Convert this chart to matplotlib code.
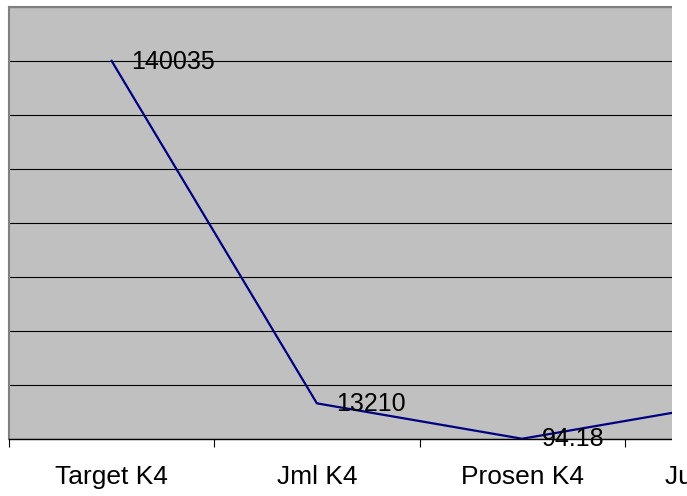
import matplotlib.pyplot as plt
from matplotlib.patches import Rectangle

# data
categories = ['Target K4', 'Jml K4', 'Prosen K4', 'Jumlah K4']
values = [140035, 13210, 94.18, 13210]
value_labels = ['140035', '13210', '94.18', '13210']

plt.rcParams['font.family'] = ['Liberation Sans', 'DejaVu Sans']

W, H = 687, 496
fig = plt.figure(figsize=(W / 100, H / 100), dpi=100)
# plot area runs past the right edge, like the cropped original
left, right, top, bottom = 9, 830, 7, 439
ax = fig.add_axes([left / W, (H - bottom) / H, (right - left) / W, (bottom - top) / H])
ax.set_facecolor('#c0c0c0')

x = list(range(len(categories)))
ax.plot(x, values, color='#000080', lw=1.6, zorder=3)
for xi, v, lab in zip(x, values, value_labels):
    ax.annotate(lab, (xi, v), xytext=(14, -0.5), textcoords='offset points',
                va='center', ha='left', fontsize=18, color='black', zorder=4,
                annotation_clip=False)

ax.set_xlim(-0.5, len(categories) - 0.5)
ax.set_ylim(0, 160000)
ax.set_yticks(range(0, 160001, 20000))
ax.yaxis.grid(True, color='black', lw=0.8)
ax.set_axisbelow(True)
ax.tick_params(axis='y', left=False, labelleft=False)

ax.set_xticks(x)
ax.set_xticklabels(categories, fontsize=19)
ax.set_xticks([i - 0.5 for i in range(len(categories) + 1)], minor=True)
ax.tick_params(axis='x', which='major', length=0, pad=19)
ax.tick_params(axis='x', which='minor', length=6, width=0.8, color='black')

for s in ['left', 'top']:
    ax.spines[s].set_color('#808080')
    ax.spines[s].set_linewidth(1.5)
ax.spines['right'].set_visible(False)
ax.spines['bottom'].set_color('black')
ax.spines['bottom'].set_linewidth(1.0)

# white strip: the original plot area is cut at x=672
fig.add_artist(Rectangle((672 / W, (H - 447) / H), 1, 1, transform=fig.transFigure,
                         facecolor='white', edgecolor='none', zorder=10))

fig.savefig('out.png', dpi=100)
